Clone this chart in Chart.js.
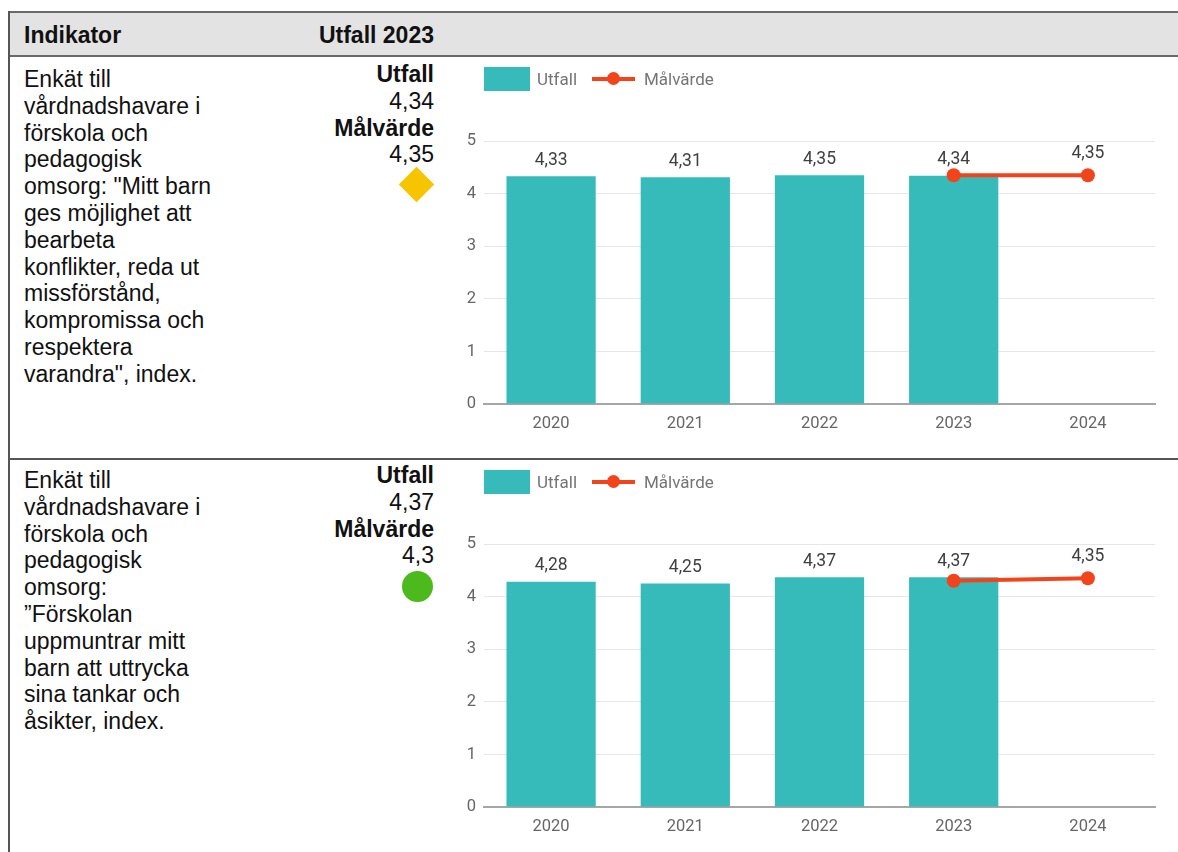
<!DOCTYPE html>
<html lang="sv">
<head>
<meta charset="utf-8">
<title>Indikator – Utfall 2023</title>
<script src="https://cdn.jsdelivr.net/npm/chart.js@4.4.1/dist/chart.umd.min.js"></script>
<style>
  html, body { margin: 0; padding: 0; background: #fff; }
  body { width: 1178px; height: 852px; position: relative; overflow: hidden; font-family: "Liberation Sans", Arial, sans-serif; color: #111; }
  .abs { position: absolute; }
  .hdr { left: 8px; top: 11px; width: 1170px; height: 42px; background: #e3e3e3; border-top: 2px solid #6a6a6a; border-bottom: 2px solid #6a6a6a; }
  .hdr span { position: absolute; top: 9px; font-weight: bold; font-size: 23px; line-height: 26px; }
  .vline { left: 8px; top: 11px; width: 2px; height: 841px; background: #555; }
  .sep { left: 8px; top: 458px; width: 1170px; height: 2px; background: #555; }
  .ind { left: 24px; font-size: 23px; line-height: 26.8px; white-space: nowrap; }
  .val { right: 744px; text-align: right; font-size: 23px; line-height: 26.8px; white-space: nowrap; }
  .val b { font-weight: bold; }
  .diamond { width: 25px; height: 25px; background: #f6c500; transform: rotate(45deg); }
  .dot { width: 31px; height: 31px; border-radius: 50%; background: #4cb91c; }
  .chartbox { left: 440px; width: 738px; height: 399px; }
  .legend { position: absolute; left: 44px; top: 10px; height: 24px; font-family: Roboto, sans-serif; font-size: 17px; color: #757575; }
  .legend .sw { position: absolute; left: 0; top: 0; width: 46px; height: 24px; background: #37bbba; }
  .legend .t1 { position: absolute; left: 53px; top: 2px; line-height: 20px; }
  .legend .ln { position: absolute; left: 108px; top: 10px; width: 43px; height: 4px; background: #f2441c; }
  .legend .ln::after { content: ""; position: absolute; left: 15px; top: -5px; width: 13px; height: 13px; border-radius: 50%; background: #f2441c; }
  .legend .t2 { position: absolute; left: 160px; top: 2px; line-height: 20px; }
  canvas { position: absolute; left: 0; top: 0; }
</style>
</head>
<body>
<div class="abs hdr"><span style="left:16px">Indikator</span><span style="right:744px">Utfall 2023</span></div>
<div class="abs vline"></div>
<div class="abs sep"></div>

<div class="abs ind" style="top:66px">Enkät till<br>vårdnadshavare i<br>förskola och<br>pedagogisk<br>omsorg: "Mitt barn<br>ges möjlighet att<br>bearbeta<br>konflikter, reda ut<br>missförstånd,<br>kompromissa och<br>respektera<br>varandra", index.</div>
<div class="abs val" style="top:61px"><b>Utfall</b><br><span id="u1"></span><br><b>Målvärde</b><br><span id="m1"></span></div>
<div class="abs diamond" style="left:404px;top:172px"></div>
<div class="abs chartbox" style="top:57px">
  <canvas id="c1" width="738" height="399"></canvas>
  <div class="legend"><div class="sw"></div><span class="t1">Utfall</span><div class="ln"></div><span class="t2">Målvärde</span></div>
</div>

<div class="abs ind" style="top:467px">Enkät till<br>vårdnadshavare i<br>förskola och<br>pedagogisk<br>omsorg:<br>”Förskolan<br>uppmuntrar mitt<br>barn att uttrycka<br>sina tankar och<br>åsikter, index.</div>
<div class="abs val" style="top:462px"><b>Utfall</b><br><span id="u2"></span><br><b>Målvärde</b><br><span id="m2"></span></div>
<div class="abs dot" style="left:402px;top:571px"></div>
<div class="abs chartbox" style="top:460px">
  <canvas id="c2" width="738" height="399"></canvas>
  <div class="legend"><div class="sw"></div><span class="t1">Utfall</span><div class="ln"></div><span class="t2">Målvärde</span></div>
</div>

<script>
  const years = ["2020", "2021", "2022", "2023", "2024"];
  const yTicks = [0, 1, 2, 3, 4, 5];

  // Indikator 1: konflikter / kompromissa
  const utfall1 = [4.33, 4.31, 4.35, 4.34, null];
  const malvarde1 = [null, null, null, 4.35, 4.35];
  // Indikator 2: uttrycka tankar och åsikter
  const utfall2 = [4.28, 4.25, 4.37, 4.37, null];
  const malvarde2 = [null, null, null, 4.3, 4.35];

  const TEAL = "#37bbba";
  const RED = "#f2441c";

  const fmt = (v) => String(v).replace(".", ",");

  document.getElementById("u1").textContent = fmt(utfall1[3]);
  document.getElementById("m1").textContent = fmt(malvarde1[3]);
  document.getElementById("u2").textContent = fmt(utfall2[3]);
  document.getElementById("m2").textContent = fmt(malvarde2[3]);

  // Value labels above bars, and above line points that have no bar under them
  const valueLabels = {
    id: "valueLabels",
    afterDatasetsDraw(chart) {
      const ctx = chart.ctx;
      const bars = chart.data.datasets[1].data;
      ctx.save();
      ctx.font = "17.5px Roboto";
      ctx.fillStyle = "#404040";
      ctx.textAlign = "center";
      ctx.textBaseline = "middle";
      chart.data.datasets.forEach((ds, di) => {
        const meta = chart.getDatasetMeta(di);
        meta.data.forEach((el, i) => {
          const v = ds.data[i];
          if (v == null) return;
          if (ds.type === "line") {
            if (bars[i] != null) return;
            ctx.fillText(fmt(v), el.x, el.y - 22);
          } else {
            ctx.fillText(fmt(v), el.x, el.y - 16);
          }
        });
      });
      ctx.restore();
    },
  };

  function makeChart(id, bars, target) {
    return new Chart(document.getElementById(id), {
      type: "bar",
      data: {
        labels: years,
        datasets: [
          {
            type: "line",
            label: "Målvärde",
            data: target,
            borderColor: RED,
            backgroundColor: RED,
            borderWidth: 4,
            pointRadius: 7,
            pointHoverRadius: 7,
            pointBackgroundColor: RED,
            pointBorderWidth: 0,
            spanGaps: false,
            order: 0,
          },
          {
            type: "bar",
            label: "Utfall",
            data: bars,
            backgroundColor: TEAL,
            categoryPercentage: 1,
            barPercentage: 0.665,
            order: 1,
          },
        ],
      },
      options: {
        responsive: false,
        animation: false,
        events: [],
        layout: { padding: { top: 84, right: 23, bottom: 22, left: 0 } },
        plugins: { legend: { display: false }, tooltip: { enabled: false } },
        scales: {
          x: {
            grid: { display: false },
            border: { display: true, color: "#a6a6a6", width: 2 },
            ticks: { color: "#666", font: { family: "Roboto", size: 16.5 }, padding: 2 },
            afterFit: (s) => { s.height = 30; },
          },
          y: {
            min: 0,
            max: 5,
            afterBuildTicks: (s) => { s.ticks = yTicks.map(v => ({ value: v })); },
            grid: { color: "#e6e6e6", lineWidth: 1, drawTicks: false },
            border: { display: false },
            ticks: { color: "#666", font: { family: "Roboto", size: 16.5 }, padding: 8 },
            afterFit: (s) => { s.width = 44; },
          },
        },
      },
      plugins: [valueLabels],
    });
  }

  makeChart("c1", utfall1, malvarde1);
  makeChart("c2", utfall2, malvarde2);
</script>
</body>
</html>
